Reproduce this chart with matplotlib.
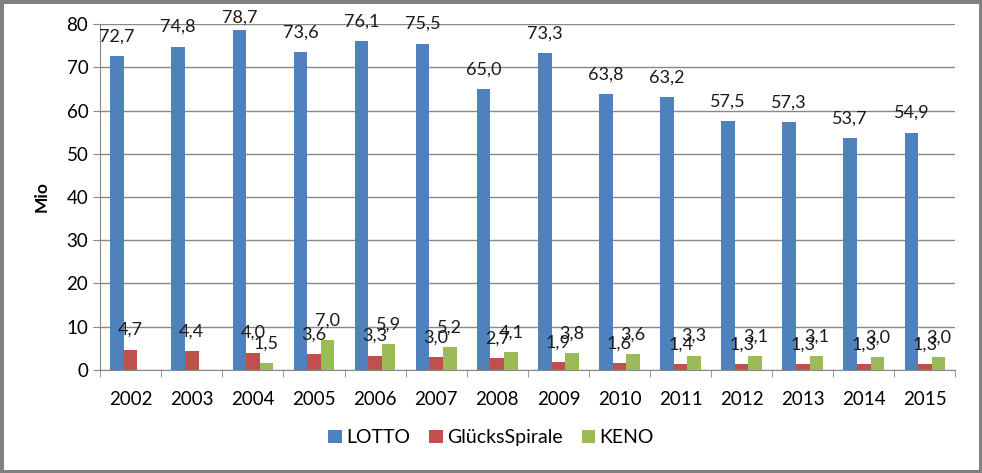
import numpy as np
import matplotlib
matplotlib.use('Agg')
import matplotlib.pyplot as plt
from matplotlib.patches import Rectangle

plt.rcParams['font.family'] = ['Lato', 'DejaVu Sans']

years = ['2002', '2003', '2004', '2005', '2006', '2007', '2008',
         '2009', '2010', '2011', '2012', '2013', '2014', '2015']
lotto = [72.7, 74.8, 78.7, 73.6, 76.1, 75.5, 65.0, 73.3, 63.8, 63.2, 57.5, 57.3, 53.7, 54.9]
gluecks = [4.7, 4.4, 4.0, 3.6, 3.3, 3.0, 2.7, 1.9, 1.6, 1.4, 1.3, 1.3, 1.3, 1.3]
keno = [None, None, 1.5, 7.0, 5.9, 5.2, 4.1, 3.8, 3.6, 3.3, 3.1, 3.1, 3.0, 3.0]

series = [('LOTTO', lotto, '#4F81BD'),
          ('GlücksSpirale', gluecks, '#C0504D'),
          ('KENO', keno, '#9BBB59')]

fig = plt.figure(figsize=(9.82, 4.73), dpi=100)
ax = fig.add_axes([0.102, 0.218, 0.871, 0.731])

x = np.arange(len(years))
w = 1 / 4.5
ax.set_xlim(-0.5, len(years) - 0.5)
ax.set_ylim(0, 80)

fig_h = fig.get_figheight() * fig.dpi
for i, (name, vals, col) in enumerate(series):
    pos = x + (i - 1) * w
    hv = [np.nan if v is None else v for v in vals]
    ax.bar(pos, hv, width=w, color=col, label=name, zorder=3)
    for p, v in zip(pos, vals):
        if v is None:
            continue
        # labels stay inside the chart: push down when too close to the top
        top = ax.transData.transform((p, v))[1]
        off = min(14.5, fig_h - 23 - top) * 72 / fig.dpi
        ax.annotate(('%.1f' % v).replace('.', ','), (p, v), xytext=(0, off),
                    textcoords='offset points', ha='center', va='baseline',
                    fontsize=13, color='#1a1a1a', zorder=5, annotation_clip=False)

ax.set_yticks(range(0, 81, 10))
ax.set_xticks(x)
ax.set_xticklabels(years)
ax.set_xticks(np.arange(-0.5, len(years)), minor=True)
ax.tick_params(axis='x', which='major', length=0, labelsize=13.5, pad=15)
ax.tick_params(axis='x', which='minor', length=5, color='#888888', direction='out')
ax.tick_params(axis='y', length=5, color='#888888', labelsize=13.5, direction='out')
ax.grid(axis='y', color='#888888', linewidth=1, zorder=0)
for s in ['top', 'right']:
    ax.spines[s].set_visible(False)
for s in ['left', 'bottom']:
    ax.spines[s].set_color('#888888')
ax.set_ylabel('Mio', fontsize=12.5, fontweight='bold', labelpad=12)

fig.legend(loc='center', bbox_to_anchor=(0.5, 0.074), ncol=3, frameon=False,
           fontsize=14, handlelength=0.7, handleheight=0.7, columnspacing=1.0,
           handletextpad=0.2)

fig.patches.append(Rectangle((0, 0), 1, 1, transform=fig.transFigure, fill=False,
                             edgecolor='#808080', linewidth=5))

fig.savefig('out.png', dpi=100)
